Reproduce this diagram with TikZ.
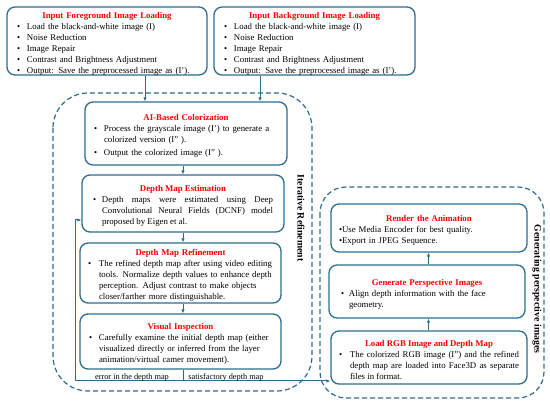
\documentclass[tikz,border=0pt]{standalone}
\usepackage{fontspec}
\setmainfont{Liberation Serif}
\usetikzlibrary{arrows.meta}
\definecolor{boxblue}{RGB}{46,110,140}
\definecolor{titlered}{RGB}{250,0,0}
\newcommand{\boxtitle}[1]{{\centering\rule{0pt}{11pt}\textcolor{titlered}{\bfseries #1}\par}}
\newcommand{\bitem}[2][10pt]{\par\noindent\hangindent=#1\hangafter=1\makebox[#1][l]{\textbullet}#2\par}
\tikzset{
  procbox/.style={draw=boxblue, line width=1.3pt, rounded corners=8pt, inner ysep=0pt,
    font=\fontsize{8.8}{11}\selectfont},
  arr/.style={draw=boxblue, line width=1pt, -{Latex[length=4pt,width=3.5pt]}},
  conn/.style={draw=boxblue, line width=1pt},
  groupbox/.style={draw=boxblue, line width=1.2pt, dash pattern=on 5pt off 3pt},
  sidelabel/.style={font=\fontsize{9.8}{11}\selectfont\bfseries, rotate=-90, inner sep=0pt},
  flowlabel/.style={font=\fontsize{8.3}{10}\selectfont, inner sep=0pt}
}
\begin{document}
\begin{tikzpicture}[x=1pt,y=-1pt]
\fill[white] (0,0) rectangle (550,401);
\useasboundingbox (0,0) rectangle (550,401);

% group frames
\draw[groupbox, rounded corners=35pt] (53,93) rectangle (312,391);
\draw[groupbox, rounded corners=26pt] (320,187) rectangle (544,398);
\node[sidelabel] (itlabel) at (301,218) {Iterative Refinement};
\node[sidelabel] (genlabel) at (537,289) {Generating perspective images};

% input boxes
\node[procbox, minimum width=200pt, minimum height=68pt, inner xsep=10pt, text width=180pt, align=left] (fg) at (107,41)
{\boxtitle{Input Foreground Image Loading}%
\bitem{Load the black-and-white image (I)}%
\bitem{Noise Reduction}%
\bitem{Image Repair}%
\bitem{Contrast and Brightness Adjustment}%
\bitem{Output: Save the preprocessed image as (I').}};

\node[procbox, minimum width=201pt, minimum height=68pt, inner xsep=10pt, text width=181pt, align=left] (bg) at (314.5,41)
{\boxtitle{Input Background Image Loading}%
\bitem{Load the black-and-white image (I)}%
\bitem{Noise Reduction}%
\bitem{Image Repair}%
\bitem{Contrast and Brightness Adjustment}%
\bitem{Output: Save the preprocessed image as (I').}};

% iterative refinement boxes
\node[procbox, minimum width=202pt, minimum height=63pt, inner xsep=9pt, text width=184pt, align=left] (ai) at (186,133.5)
{\boxtitle{AI-Based Colorization}%
\bitem{Process the grayscale image (I') to generate a\newline colorized version (I" ).}\vspace{2pt}%
\bitem{Output the colorized image (I" ).}};

\node[procbox, minimum width=202pt, minimum height=57pt, inner xsep=11pt, text width=180pt, align=justify] (dme) at (183,203.5)
{\boxtitle{Depth Map Estimation}%
\bitem[9pt]{Depth maps were estimated using Deep\linebreak Convolutional Neural Fields (DCNF) model\linebreak proposed by Eigen et al.}};

\node[procbox, minimum width=201pt, minimum height=60pt, inner xsep=8pt, text width=185pt, align=left] (dmr) at (180.5,273)
{\boxtitle{Depth Map Refinement}%
\bitem[11pt]{The refined depth map after using video editing\newline tools. Normalize depth values to enhance depth\newline perception. Adjust contrast to make objects\newline closer/farther more distinguishable.}};

\node[procbox, minimum width=201pt, minimum height=55pt, inner xsep=9pt, text width=183pt, align=left] (vi) at (180.5,341.5)
{\boxtitle{Visual Inspection}%
\bitem{Carefully examine the initial depth map (either\newline visualized directly or inferred from the layer\newline animation/virtual camer movement).}};

% perspective boxes
\node[procbox, minimum width=196pt, minimum height=48pt, inner xsep=8pt, text width=180pt, align=left] (render) at (429,228)
{\boxtitle{Render the Animation}%
\textbullet Use Media Encoder for best quality.\par
\textbullet Export in JPEG Sequence.\par};

\node[procbox, minimum width=196pt, minimum height=53pt, inner xsep=12pt, text width=172pt, align=left] (gen) at (427,291.5)
{\boxtitle{Generate Perspective Images}%
\bitem[8pt]{Align depth information with the face\newline geometry.}};

\node[procbox, minimum width=196pt, minimum height=53pt, inner xsep=8pt, text width=180pt, align=justify] (lrgb) at (429,357.5)
{\boxtitle{Load RGB Image and Depth Map}%
\bitem[11pt]{The colorized RGB image (I") and the refined\linebreak depth map are loaded into Face3D as separate\linebreak files in format.}};

% helper coordinates
\coordinate (fgx) at (145,0);
\coordinate (bgx) at (260,0);
\coordinate (colx) at (183,0);
\coordinate (rcolx) at (428.5,0);
\coordinate (split) at (183,381);
\coordinate (errcorner) at (75,381);
\coordinate (fbrow) at (0,220);

% connectors
\draw[arr] (fg.south -| fgx) -- (ai.north -| fgx);
\draw[arr] (bg.south -| bgx) -- (ai.north -| bgx);
\draw[arr] (ai.south -| colx) -- (dme.north -| colx);
\draw[arr] (dme.south -| colx) -- (dmr.north -| colx);
\draw[arr] (dmr.south -| colx) -- (vi.north -| colx);
\draw[conn] (vi.south -| colx) -- (split);
\draw[arr] (split) -- (errcorner) |- (dme.west |- fbrow);
\draw[arr] (split) -- (lrgb.west |- split);
\draw[arr] (lrgb.north -| rcolx) -- (gen.south -| rcolx);
\draw[arr] (gen.north -| rcolx) -- (render.south -| rcolx);

\node[flowlabel, anchor=base] (errlabel) at (132,379.5) {error in the depth map};
\node[flowlabel, anchor=base] (oklabel) at (226,379.5) {satisfactory depth map};
\end{tikzpicture}
\end{document}
